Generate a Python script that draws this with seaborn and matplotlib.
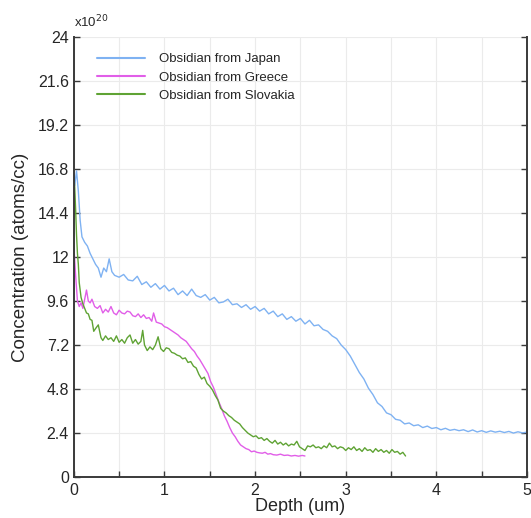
import numpy as np
import pandas as pd
import matplotlib
matplotlib.use("Agg")
import matplotlib.pyplot as plt
import seaborn as sns

# depth (um) and concentration (x1e20 atoms/cc)
JAPAN_DEPTH = [0.01, 0.03, 0.05, 0.07, 0.09, 0.12, 0.15, 0.18, 0.21, 0.24, 0.27, 0.30,
               0.33, 0.36, 0.39, 0.42, 0.45, 0.50, 0.55, 0.60, 0.65, 0.70, 0.75, 0.80,
               0.85, 0.90, 0.95, 1.00, 1.05, 1.10, 1.15, 1.20, 1.25, 1.30, 1.35, 1.40,
               1.45, 1.50, 1.55, 1.60, 1.65, 1.70, 1.75, 1.80, 1.85, 1.90, 1.95, 2.00,
               2.05, 2.10, 2.15, 2.20, 2.25, 2.30, 2.35, 2.40, 2.45, 2.50, 2.55, 2.60,
               2.65, 2.70, 2.75, 2.80, 2.85, 2.90, 2.95, 3.00, 3.05, 3.10, 3.15, 3.20,
               3.25, 3.30, 3.35, 3.40, 3.45, 3.50, 3.55, 3.60, 3.65, 3.70, 3.75, 3.80,
               3.85, 3.90, 3.95, 4.00, 4.05, 4.10, 4.15, 4.20, 4.25, 4.30, 4.35, 4.40,
               4.45, 4.50, 4.55, 4.60, 4.65, 4.70, 4.75, 4.80, 4.85, 4.90, 4.95, 5.00]
JAPAN_CONC = [15.9, 16.7, 15.6, 14.0, 13.1, 12.8, 12.6, 12.2, 11.9, 11.6, 11.4, 10.9,
              11.4, 11.2, 11.9, 11.2, 11.0, 10.9, 11.05, 10.75, 10.7, 10.95, 10.5, 10.65,
              10.35, 10.55, 10.25, 10.45, 10.15, 10.3, 9.95, 10.15, 9.9, 10.25, 9.9, 9.8,
              9.95, 9.65, 9.8, 9.5, 9.55, 9.7, 9.4, 9.45, 9.25, 9.4, 9.15, 9.3,
              9.05, 9.2, 8.9, 9.05, 8.75, 8.9, 8.6, 8.75, 8.5, 8.65, 8.35, 8.55,
              8.25, 8.3, 8.05, 7.95, 7.7, 7.55, 7.2, 6.95, 6.6, 6.15, 5.7, 5.35,
              4.85, 4.5, 4.05, 3.85, 3.5, 3.4, 3.15, 3.1, 2.9, 2.95, 2.8, 2.85,
              2.7, 2.78, 2.65, 2.7, 2.58, 2.66, 2.55, 2.6, 2.53, 2.58, 2.48, 2.57,
              2.46, 2.53, 2.44, 2.52, 2.45, 2.5, 2.43, 2.49, 2.4, 2.47, 2.41, 2.45]

GREECE_DEPTH = [0.00, 0.02, 0.04, 0.06, 0.08, 0.10, 0.12, 0.14, 0.16, 0.18, 0.20, 0.23,
                0.26, 0.29, 0.32, 0.35, 0.38, 0.41, 0.44, 0.47, 0.50, 0.53, 0.56, 0.59,
                0.62, 0.65, 0.68, 0.71, 0.74, 0.77, 0.80, 0.83, 0.86, 0.88, 0.91, 0.94,
                0.97, 1.00, 1.03, 1.06, 1.09, 1.12, 1.15, 1.18, 1.21, 1.24, 1.27, 1.30,
                1.33, 1.36, 1.39, 1.42, 1.45, 1.48, 1.51, 1.54, 1.57, 1.60, 1.63, 1.66,
                1.69, 1.72, 1.75, 1.78, 1.81, 1.84, 1.87, 1.90, 1.93, 1.96, 1.99, 2.02,
                2.05, 2.08, 2.11, 2.14, 2.17, 2.20, 2.24, 2.28, 2.32, 2.36, 2.40, 2.44,
                2.48, 2.52, 2.55]
GREECE_CONC = [12.6, 11.0, 9.6, 9.3, 9.5, 9.2, 9.7, 10.2, 9.6, 9.5, 9.7, 9.3,
               9.2, 9.35, 8.95, 9.15, 9.0, 9.3, 8.95, 8.85, 9.1, 8.95, 8.9, 9.05,
               9.0, 8.8, 8.75, 8.9, 8.7, 8.85, 8.65, 8.7, 8.5, 8.95, 8.45, 8.4,
               8.35, 8.2, 8.15, 8.05, 7.95, 7.85, 7.75, 7.6, 7.5, 7.4, 7.2, 7.0,
               6.85, 6.6, 6.4, 6.15, 5.9, 5.65, 5.2, 4.9, 4.5, 4.1, 3.75, 3.35,
               3.05, 2.7, 2.4, 2.2, 1.95, 1.75, 1.65, 1.55, 1.5, 1.38, 1.42, 1.35,
               1.32, 1.3, 1.35, 1.25, 1.28, 1.22, 1.2, 1.25, 1.18, 1.2, 1.15, 1.18,
               1.14, 1.18, 1.15]

SLOVAKIA_DEPTH = [0.00, 0.01, 0.02, 0.03, 0.04, 0.05, 0.06, 0.08, 0.10, 0.12, 0.14, 0.16,
                  0.18, 0.20, 0.22, 0.24, 0.27, 0.30, 0.32, 0.35, 0.38, 0.41, 0.44, 0.47,
                  0.50, 0.53, 0.56, 0.59, 0.62, 0.65, 0.68, 0.71, 0.74, 0.76, 0.78, 0.81,
                  0.84, 0.87, 0.90, 0.93, 0.96, 0.99, 1.02, 1.05, 1.08, 1.11, 1.14, 1.17,
                  1.20, 1.23, 1.26, 1.29, 1.32, 1.35, 1.38, 1.41, 1.44, 1.47, 1.50, 1.53,
                  1.56, 1.59, 1.62, 1.65, 1.68, 1.71, 1.74, 1.77, 1.80, 1.83, 1.86, 1.89,
                  1.92, 1.95, 1.98, 2.01, 2.04, 2.07, 2.10, 2.13, 2.16, 2.19, 2.22, 2.25,
                  2.28, 2.31, 2.34, 2.37, 2.40, 2.43, 2.46, 2.49, 2.52, 2.55, 2.58, 2.61,
                  2.64, 2.67, 2.70, 2.73, 2.76, 2.79, 2.82, 2.85, 2.88, 2.91, 2.94, 2.97,
                  3.00, 3.03, 3.06, 3.09, 3.12, 3.15, 3.18, 3.21, 3.24, 3.27, 3.30, 3.33,
                  3.36, 3.39, 3.42, 3.45, 3.48, 3.51, 3.54, 3.57, 3.60, 3.63, 3.66]
SLOVAKIA_CONC = [16.5, 15.8, 14.6, 13.2, 12.2, 11.6, 10.6, 9.8, 9.45, 9.2, 8.95, 8.9,
                 8.6, 8.55, 7.95, 8.1, 8.3, 7.6, 7.45, 7.7, 7.5, 7.6, 7.4, 7.7,
                 7.35, 7.5, 7.3, 7.6, 7.75, 7.3, 7.5, 7.25, 7.4, 8.0, 7.2, 6.9,
                 7.1, 6.95, 7.2, 7.65, 7.0, 6.85, 7.05, 7.0, 6.8, 6.75, 6.65, 6.6,
                 6.45, 6.5, 6.25, 6.3, 6.05, 5.95, 5.6, 5.35, 5.45, 5.1, 4.95, 4.75,
                 4.45, 4.2, 3.75, 3.6, 3.5, 3.35, 3.25, 3.1, 3.0, 2.9, 2.7, 2.55,
                 2.4, 2.3, 2.2, 2.25, 2.1, 2.15, 2.0, 2.1, 1.95, 1.85, 2.0, 1.8,
                 1.9, 1.75, 1.85, 1.7, 1.8, 1.75, 1.95, 1.65, 1.55, 1.45, 1.7, 1.65,
                 1.75, 1.6, 1.65, 1.55, 1.7, 1.6, 1.85, 1.65, 1.7, 1.55, 1.65, 1.6,
                 1.45, 1.6, 1.5, 1.65, 1.45, 1.55, 1.4, 1.6, 1.45, 1.5, 1.35, 1.55,
                 1.4, 1.5, 1.35, 1.45, 1.3, 1.5, 1.35, 1.4, 1.25, 1.35, 1.15]

SERIES = ["Obsidian from Japan", "Obsidian from Greece", "Obsidian from Slovakia"]
COLORS = ["#7fb2f2", "#e15ee8", "#5fa334"]


def main():
    sns.set_style("white")
    plt.rcParams["font.family"] = ["Liberation Sans", "DejaVu Sans"]

    frames = []
    for name, d, c in zip(SERIES,
                          [JAPAN_DEPTH, GREECE_DEPTH, SLOVAKIA_DEPTH],
                          [JAPAN_CONC, GREECE_CONC, SLOVAKIA_CONC]):
        frames.append(pd.DataFrame({"depth": d, "conc": c, "sample": name}))
    df = pd.concat(frames, ignore_index=True)

    fig = plt.figure(figsize=(5.31, 5.18), dpi=100)
    ax = fig.add_axes([0.139, 0.079, 0.8535, 0.8496])

    sns.lineplot(data=df, x="depth", y="conc", hue="sample", hue_order=SERIES,
                 palette=COLORS, estimator=None, sort=False, linewidth=1.0, ax=ax)

    ax.set_xlim(0, 5)
    ax.set_ylim(0, 24)
    yt = np.arange(0, 25, 2.4)
    ax.set_yticks(yt)
    ax.set_yticklabels([f"{v:.1f}".rstrip("0").rstrip(".") for v in yt])
    ax.set_xticks([0, 1, 2, 3, 4, 5])
    ax.set_xticks(np.arange(0, 5.01, 0.5), minor=True)
    ax.grid(True, which="both", axis="x", color="#ebebeb", linewidth=0.8)
    ax.grid(True, which="major", axis="y", color="#ebebeb", linewidth=0.8)
    ax.set_axisbelow(True)

    for side in ["left", "bottom", "right"]:
        ax.spines[side].set_color("#3a3a3a")
        ax.spines[side].set_linewidth(1.4)
    ax.spines["top"].set_visible(False)
    ax.tick_params(axis="both", which="both", direction="in", length=4,
                   width=1.0, color="#3a3a3a", labelsize=11.5, right=True, bottom=True,
                   left=True)
    ax.tick_params(axis="x", pad=4)

    ax.set_xlabel("Depth (um)", fontsize=13, labelpad=0)
    ax.set_ylabel("Concentration (atoms/cc)", fontsize=13.5, labelpad=6)
    ax.text(0.0, 1.015, r"x10$^{20}$", transform=ax.transAxes, fontsize=9.5,
            ha="left", va="bottom")

    leg = ax.legend(loc="upper left", frameon=False, fontsize=9.5, handlelength=3.6,
                    handletextpad=1.1, labelspacing=0.45,
                    bbox_to_anchor=(0.025, 0.99))
    for line in leg.get_lines():
        line.set_linewidth(1.5)

    fig.savefig("out.png", dpi=100)
    plt.close(fig)


if __name__ == "__main__":
    main()
